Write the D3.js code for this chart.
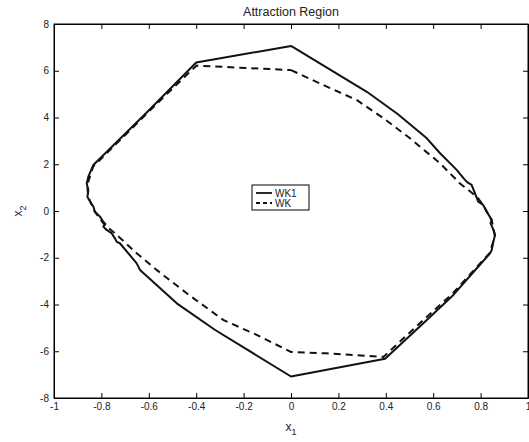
<!DOCTYPE html>
<html>
<head>
<meta charset="utf-8">
<script src="https://cdn.jsdelivr.net/npm/d3@7"></script>
<style>
  body { margin: 0; background: #fff; }
  .axis text { font: 10px "Liberation Sans", Arial, sans-serif; fill: #222; }
  .axis path, .axis line { stroke: #000; }
</style>
</head>
<body>
<div id="chart"></div>
<script>
// boundary of the attraction region, [x1, x2] going clockwise from the top
var wk1 = [
  [0, 7.06], [0.32, 5.10], [0.45, 4.15], [0.573, 3.11], [0.629, 2.47], [0.699, 1.76], [0.734, 1.33],
  [0.745, 1.22], [0.762, 1.12], [0.776, 0.76], [0.79, 0.40], [0.811, 0.26], [0.826, -0.03], [0.847, -0.38],
  [0.842, -0.52], [0.854, -0.81], [0.861, -1.03], [0.854, -1.31], [0.847, -1.67], [0.84, -1.81],
  [0.784, -2.45], [0.685, -3.59], [0.573, -4.66], [0.397, -6.32], [0, -7.08],
  [-0.32, -5.09], [-0.482, -3.95], [-0.637, -2.52], [-0.651, -2.24], [-0.722, -1.38],
  [-0.735, -1.32], [-0.743, -1.17], [-0.757, -0.95], [-0.778, -0.81], [-0.792, -0.67], [-0.783, -0.55],
  [-0.792, -0.46], [-0.806, -0.24], [-0.827, -0.03], [-0.834, 0.19], [-0.848, 0.40], [-0.859, 0.61],
  [-0.855, 0.90], [-0.862, 1.18], [-0.855, 1.47], [-0.834, 1.97], [-0.612, 4.18],
  [-0.40, 6.35], [0, 7.06]
];
var wk = [
  [0, 6.03], [0.136, 5.39], [0.277, 4.75], [0.39, 3.97], [0.502, 3.11], [0.629, 2.04],
  [0.713, 1.18], [0.784, 0.61], [0.811, 0.26], [0.83, -0.1], [0.847, -0.4],
  [0.855, -0.8], [0.86, -1.03], [0.852, -1.35], [0.838, -1.8], [0.68, -3.55],
  [0.565, -4.6], [0.39, -6.24], [0.15, -6.09], [0, -6.03], [-0.145, -5.30],
  [-0.286, -4.66], [-0.44, -3.52], [-0.567, -2.52], [-0.651, -1.81], [-0.743, -0.95],
  [-0.79, -0.55], [-0.83, 0.0], [-0.855, 0.6], [-0.86, 1.1], [-0.835, 1.9],
  [-0.565, 4.6], [-0.426, 5.96], [-0.398, 6.22], [-0.089, 6.07], [0, 6.03]
];
var xTicks = [-1, -0.8, -0.6, -0.4, -0.2, 0, 0.2, 0.4, 0.6, 0.8, 1];
var yTicks = [-8, -6, -4, -2, 0, 2, 4, 6, 8];
var seriesNames = ["WK1", "WK"];

var
  margin = {top: 24, right: 1, bottom: 44, left: 54},
  width = 529 - margin.left - margin.right,
  height = 442 - margin.top - margin.bottom;

var svg = d3.select("#chart")
  .append("svg")
  .attr("width", 529)
  .attr("height", 442);
var g = svg.append("g")
  .attr("transform", "translate(" + margin.left + "," + margin.top + ")");

var x = d3.scaleLinear().domain([-1, 1]).range([0, width]);
var y = d3.scaleLinear().domain([-8, 8]).range([height, 0]);
var fmt = function(d) { return String(d); };

g.append("g")
    .attr("class", "axis")
    .attr("transform", "translate(0," + height + ")")
    .call(d3.axisBottom(x).tickValues(xTicks).tickFormat(fmt).tickSizeInner(-5).tickSizeOuter(0).tickPadding(5));
g.append("g")
    .attr("class", "axis")
    .call(d3.axisTop(x).tickValues(xTicks).tickFormat("").tickSizeInner(-5).tickSizeOuter(0));
g.append("g")
    .attr("class", "axis")
    .call(d3.axisLeft(y).tickValues(yTicks).tickFormat(fmt).tickSizeInner(-5).tickSizeOuter(0).tickPadding(5));
g.append("g")
    .attr("class", "axis")
    .attr("transform", "translate(" + width + ",0)")
    .call(d3.axisRight(y).tickValues(yTicks).tickFormat("").tickSizeInner(-5).tickSizeOuter(0));

g.append("rect")
    .attr("width", width)
    .attr("height", height)
    .attr("fill", "none")
    .attr("stroke", "#000")
    .attr("stroke-width", 1);

var line = d3.line()
    .x(function(d) { return x(d[0]); })
    .y(function(d) { return y(d[1]); });

g.append("path")
    .datum(wk)
    .attr("d", line)
    .attr("fill", "none")
    .attr("stroke", "#111")
    .attr("stroke-width", 2)
    .attr("stroke-dasharray", "7,5");

g.append("path")
    .datum(wk1)
    .attr("d", line)
    .attr("fill", "none")
    .attr("stroke", "#111")
    .attr("stroke-width", 2)
    .attr("stroke-linejoin", "round");

// title and axis labels
svg.append("text")
    .attr("x", margin.left + width / 2)
    .attr("y", 16)
    .attr("text-anchor", "middle")
    .style("font", "12.5px 'Liberation Sans', Arial, sans-serif")
    .attr("fill", "#222")
    .text("Attraction Region");

var xl = svg.append("text")
    .attr("x", margin.left + width / 2)
    .attr("y", 431)
    .attr("text-anchor", "middle")
    .style("font", "12px 'Liberation Sans', Arial, sans-serif")
    .attr("fill", "#222");
xl.append("tspan").text("x");
xl.append("tspan").attr("dy", 4).style("font-size", "9px").text("1");

var yl = svg.append("text")
    .attr("transform", "translate(22," + (margin.top + height / 2) + ") rotate(-90)")
    .attr("text-anchor", "middle")
    .style("font", "12px 'Liberation Sans', Arial, sans-serif")
    .attr("fill", "#222");
yl.append("tspan").text("x");
yl.append("tspan").attr("dy", 4).style("font-size", "9px").text("2");

// legend
var lg = svg.append("g").attr("transform", "translate(252,185)");
lg.append("rect")
    .attr("width", 57)
    .attr("height", 25)
    .attr("fill", "#fff")
    .attr("stroke", "#000");
var item = lg.selectAll(".legend")
  .data(seriesNames)
  .enter().append("g")
    .attr("class", "legend")
    .attr("transform", function(d, i) { return "translate(0," + (8 + i * 10) + ")"; });
item.append("line")
    .attr("x1", 4)
    .attr("x2", 20)
    .attr("stroke", "#111")
    .attr("stroke-width", 1.8)
    .attr("stroke-dasharray", function(d, i) { return i ? "4,3" : null; });
item.append("text")
    .attr("x", 23)
    .attr("dy", "0.35em")
    .style("font", "10px 'Liberation Sans', Arial, sans-serif")
    .attr("fill", "#222")
    .text(function(d) { return d; });
</script>
</body>
</html>
